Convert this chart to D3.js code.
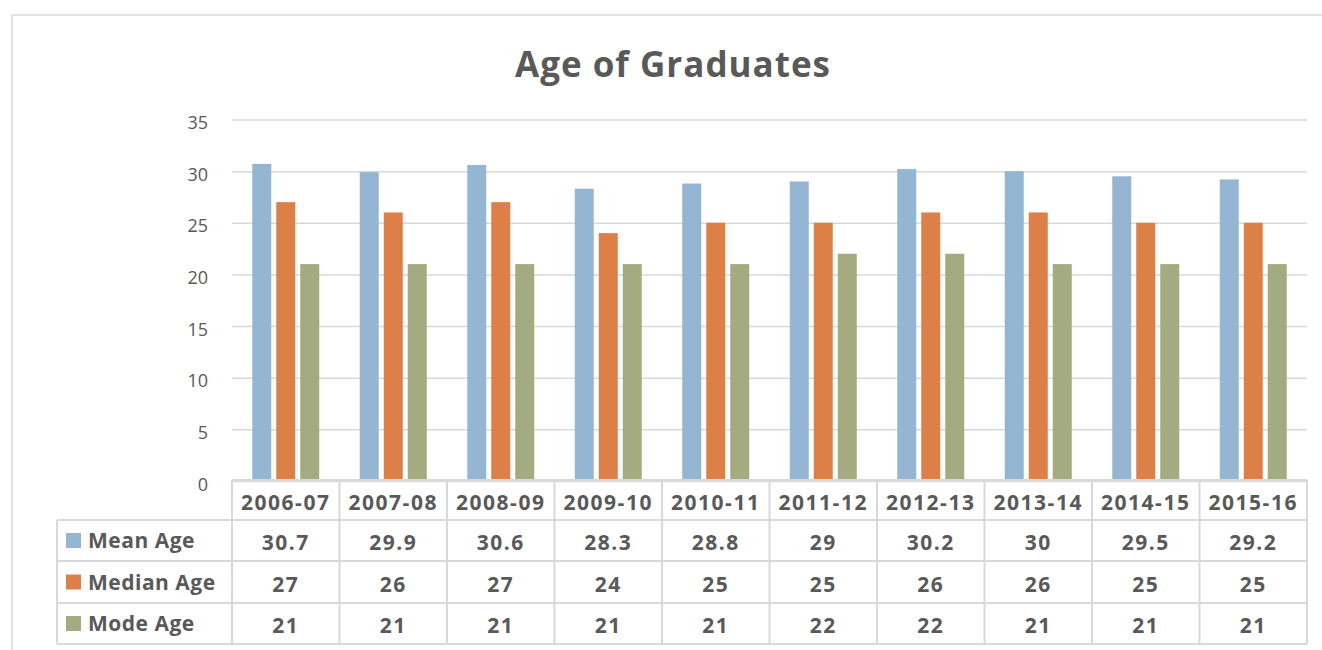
<!DOCTYPE html>
<html>
<head>
<meta charset="utf-8">
<script src="https://cdn.jsdelivr.net/npm/d3@7"></script>
<style>
  html, body { margin: 0; padding: 0; background: #fff; }
  svg { display: block; }
  text { font-family: "Open Sans", "DejaVu Sans", sans-serif; fill: #595959; }
</style>
</head>
<body>
<svg id="chart" width="1322" height="650"></svg>
<script>
const title = "Age of Graduates";
const categories = ["2006-07","2007-08","2008-09","2009-10","2010-11","2011-12","2012-13","2013-14","2014-15","2015-16"];
const seriesNames = ["Mean Age","Median Age","Mode Age"];
const meanAge   = [30.7, 29.9, 30.6, 28.3, 28.8, 29, 30.2, 30, 29.5, 29.2];
const medianAge = [27, 26, 27, 24, 25, 25, 26, 26, 25, 25];
const modeAge   = [21, 21, 21, 21, 21, 22, 22, 21, 21, 21];
const yTicks = [0, 5, 10, 15, 20, 25, 30, 35];
const colors = ["#94B6D2", "#DD8047", "#A5AB81"];

const seriesValues = [meanAge, medianAge, modeAge];
const series = seriesNames.map((name, k) => ({ name, values: seriesValues[k], color: colors[k] }));

const svg = d3.select("#chart");
const gridColor = "#d9d9d9";

// Outer chart border
svg.append("rect")
  .attr("x", 12).attr("y", 15).attr("width", 1400).attr("height", 700)
  .attr("fill", "none").attr("stroke", gridColor).attr("stroke-width", 1.5);

// Title
svg.append("text")
  .attr("x", 672.5).attr("y", 77)
  .attr("text-anchor", "middle")
  .attr("font-size", 35).attr("font-weight", 700)
  .attr("textLength", 315).attr("lengthAdjust", "spacing")
  .text(title);

const plotLeft = 232, plotRight = 1307, plotTop = 119.5, plotBottom = 481;

const x = d3.scaleBand().domain(categories).range([plotLeft, plotRight]).padding(0);
const groupW = 67;
const xInner = d3.scaleBand().domain(seriesNames)
  .range([(x.bandwidth() - groupW) / 2, (x.bandwidth() + groupW) / 2])
  .paddingInner(5 / 24).paddingOuter(0);
const y = d3.scaleLinear().domain([0, 35]).range([plotBottom, plotTop]);

// Gridlines via axis
const yAxis = d3.axisLeft(y).tickValues(yTicks).tickSize(-(plotRight - plotLeft)).tickFormat(d3.format("d"));
const gAxis = svg.append("g").attr("transform", `translate(${plotLeft},0)`).call(yAxis);
gAxis.select(".domain").remove();
gAxis.selectAll(".tick line").attr("stroke", gridColor).attr("stroke-width", 1.5);
gAxis.selectAll(".tick text")
  .attr("x", -24).attr("dy", "0.5em")
  .attr("font-size", 18).attr("fill", "#595959")
  .style("font-family", "'Open Sans', sans-serif");

// Bars
const groups = svg.append("g").selectAll("g")
  .data(categories).join("g")
  .attr("transform", d => `translate(${x(d)},0)`);

groups.selectAll("rect")
  .data((d, i) => series.map(s => ({ name: s.name, value: s.values[i], color: s.color })))
  .join("rect")
  .attr("x", d => xInner(d.name))
  .attr("width", xInner.bandwidth())
  .attr("y", d => y(d.value))
  .attr("height", d => y(0) - y(d.value))
  .attr("fill", d => d.color);

// Data table
const headerTop = 480, headerBottom = 520;
const rowEdges = [520, 561, 603, 644];
const legendLeft = 57;
const tbl = svg.append("g");
const lineAttrs = sel => sel.attr("stroke", gridColor).attr("stroke-width", 2).attr("fill", "none");

// horizontal lines
tbl.append("line").attr("x1", plotLeft).attr("x2", plotRight).attr("y1", headerTop).attr("y2", headerTop).call(lineAttrs);
rowEdges.forEach(yy => {
  tbl.append("line").attr("x1", legendLeft).attr("x2", plotRight).attr("y1", yy).attr("y2", yy).call(lineAttrs);
});
// vertical lines
categories.forEach(c => {
  tbl.append("line").attr("x1", x(c)).attr("x2", x(c)).attr("y1", headerTop).attr("y2", rowEdges[3]).call(lineAttrs);
});
tbl.append("line").attr("x1", plotRight).attr("x2", plotRight).attr("y1", headerTop).attr("y2", rowEdges[3]).call(lineAttrs);
tbl.append("line").attr("x1", legendLeft).attr("x2", legendLeft).attr("y1", rowEdges[0]).attr("y2", rowEdges[3]).call(lineAttrs);

// header texts
tbl.selectAll("text.hdr").data(categories).join("text")
  .attr("class", "hdr")
  .attr("x", d => x(d) + x.bandwidth() / 2)
  .attr("y", (headerTop + headerBottom) / 2 + 9.5)
  .attr("text-anchor", "middle")
  .attr("font-size", 21).attr("font-weight", 700)
  .attr("letter-spacing", 1.5)
  .text(d => d);

// rows
series.forEach((s, k) => {
  const top = rowEdges[k], bot = rowEdges[k + 1], mid = (top + bot) / 2;
  tbl.append("rect")
    .attr("x", 66).attr("y", mid - 7.5).attr("width", 15).attr("height", 15)
    .attr("fill", s.color);
  tbl.append("text")
    .attr("x", 88).attr("y", mid + 7.5)
    .attr("font-size", 21).attr("font-weight", 700)
    .attr("letter-spacing", 0.5)
    .text(s.name);
  tbl.selectAll(null).data(categories).join("text")
    .attr("x", d => x(d) + x.bandwidth() / 2)
    .attr("y", mid + 9.5)
    .attr("text-anchor", "middle")
    .attr("font-size", 21).attr("font-weight", 700)
    .attr("letter-spacing", 1.5)
    .text((d, i) => s.values[i]);
});
</script>
</body>
</html>
